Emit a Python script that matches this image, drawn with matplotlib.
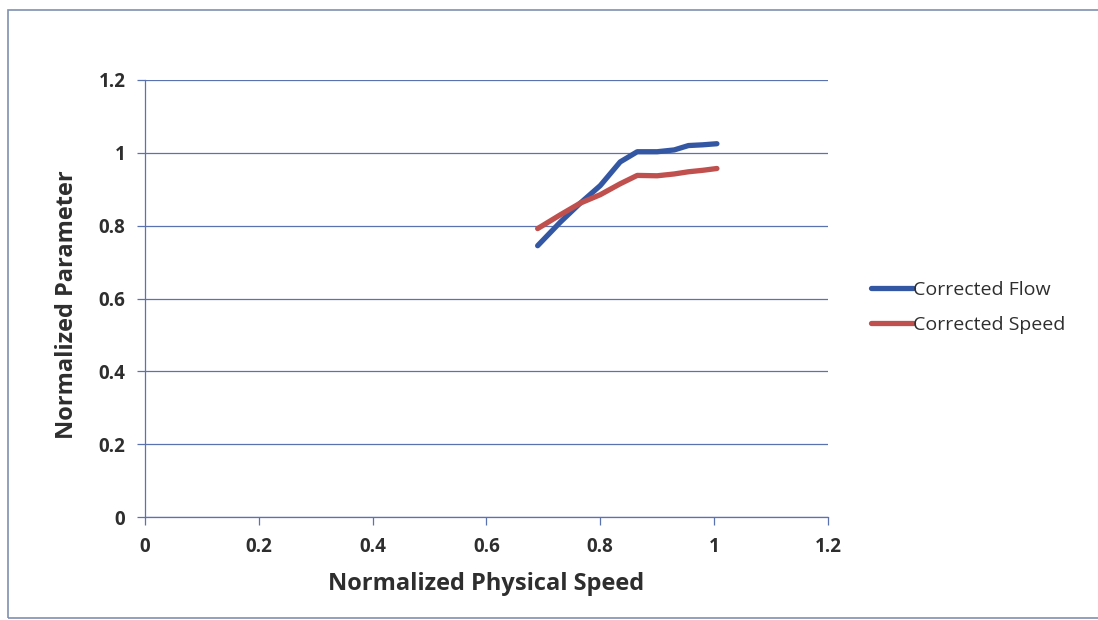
import matplotlib
matplotlib.use("Agg")
import matplotlib.pyplot as plt
from matplotlib.patches import Rectangle

# Data
speed = [0.69, 0.73, 0.765, 0.80, 0.835, 0.865, 0.90, 0.93, 0.955, 0.98, 1.005]
corrected_flow = [0.745, 0.81, 0.862, 0.91, 0.975, 1.003, 1.003, 1.008, 1.02, 1.022, 1.025]
corrected_speed = [0.792, 0.83, 0.862, 0.885, 0.915, 0.938, 0.937, 0.942, 0.948, 0.952, 0.957]

x_ticks = [0, 0.2, 0.4, 0.6, 0.8, 1, 1.2]
y_ticks = [0, 0.2, 0.4, 0.6, 0.8, 1, 1.2]
x_tick_labels = ["0", "0.2", "0.4", "0.6", "0.8", "1", "1.2"]
y_tick_labels = ["0", "0.2", "0.4", "0.6", "0.8", "1", "1.2"]

plt.rcParams['font.family'] = ['Open Sans', 'DejaVu Sans']

fig = plt.figure(figsize=(10.98, 6.2), dpi=100)
ax = fig.add_axes([0.132, 0.166, 0.622, 0.705])

grid_c = '#5a72b0'
ax.plot(speed, corrected_flow, color='#3457a4', lw=3.8, label='Corrected Flow',
        solid_capstyle='round')
ax.plot(speed, corrected_speed, color='#c0504d', lw=3.8, label='Corrected Speed',
        solid_capstyle='round')

ax.set_xlim(0, 1.2)
ax.set_ylim(0, 1.2)
ax.set_xticks(x_ticks)
ax.set_xticklabels(x_tick_labels)
ax.set_yticks(y_ticks)
ax.set_yticklabels(y_tick_labels)
ax.yaxis.grid(True, color=grid_c, lw=0.9)
ax.set_axisbelow(True)
for s in ['top', 'right']:
    ax.spines[s].set_visible(False)
for s in ['left', 'bottom']:
    ax.spines[s].set_color(grid_c)
    ax.spines[s].set_linewidth(0.9)
ax.tick_params(axis='both', colors=grid_c, length=6, width=0.9, direction='out')
for lbl in ax.get_xticklabels() + ax.get_yticklabels():
    lbl.set_color('#2e2e2e')
    lbl.set_fontsize(13.5)
    lbl.set_fontweight('bold')
ax.tick_params(axis='x', pad=8)
ax.tick_params(axis='y', pad=8)

ax.set_xlabel('Normalized Physical Speed', fontsize=17, fontweight='bold',
              color='#2e2e2e', labelpad=11)
ax.set_ylabel('Normalized Parameter', fontsize=17, fontweight='bold',
              color='#2e2e2e', labelpad=12)
ax.yaxis.set_label_coords(-0.097, 0.485)

leg = fig.legend(loc='upper left', bbox_to_anchor=(0.777, 0.575), frameon=False,
                 fontsize=14, handlelength=2.2, handletextpad=0.0,
                 labelspacing=0.85)
for t in leg.get_texts():
    t.set_color('#2e2e2e')

fig.patches.append(Rectangle((8 / 1098, 2 / 620), 1.2, 608 / 620,
                             transform=fig.transFigure, fill=False,
                             edgecolor='#8090b0', lw=1.2))

fig.savefig('out.png', dpi=100)
